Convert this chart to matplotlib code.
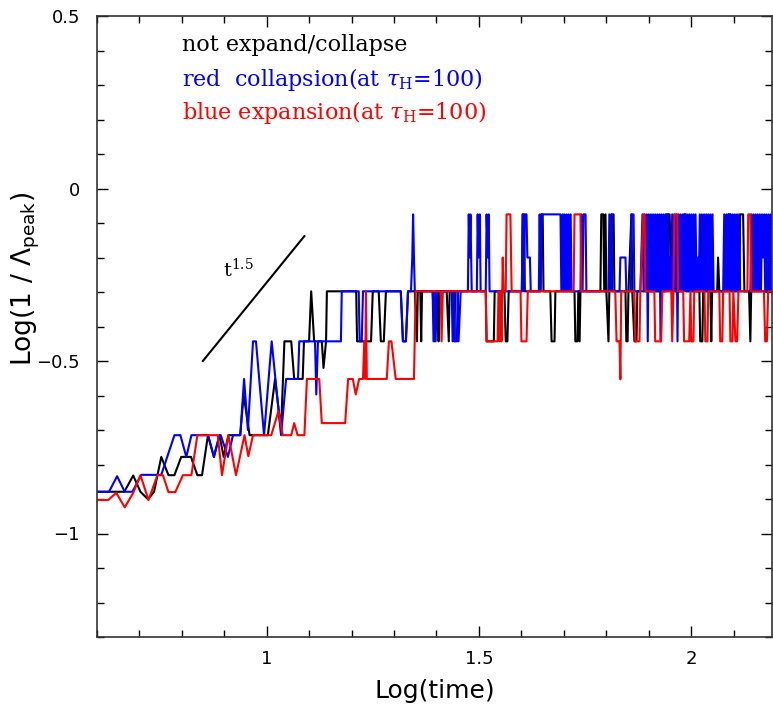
import matplotlib
matplotlib.use("Agg")
import matplotlib.pyplot as plt
from matplotlib.ticker import MultipleLocator

# ---- data (Log(time), Log(1/Lambda_peak)) ----
black_x = [0.604, 0.665, 0.686, 0.703, 0.721, 0.735, 0.752, 0.769, 0.783, 0.799,
           0.822, 0.837, 0.848, 0.862, 0.876, 0.889, 0.899, 0.910, 0.938, 0.946,
           0.960, 1.003, 1.020, 1.034, 1.042, 1.058, 1.065, 1.085, 1.088, 1.100,
           1.105, 1.112, 1.130, 1.134, 1.140, 1.142, 1.211, 1.213, 1.246, 1.250,
           1.264, 1.269, 1.276, 1.281, 1.316, 1.321, 1.328, 1.333, 1.349, 1.354,
           1.356, 1.362, 1.364, 1.366, 1.391, 1.396, 1.398, 1.403, 1.405, 1.407,
           1.424, 1.429, 1.431, 1.440, 1.442, 1.444, 1.516, 1.518, 1.535,
           1.537, 1.560, 1.563, 1.567, 1.570, 1.601, 1.603, 1.606, 1.608, 1.645,
           1.647, 1.650, 1.652, 1.668, 1.671, 1.678, 1.680, 1.725, 1.727, 1.732,
           1.734, 1.737, 1.739, 1.786, 1.788, 1.793, 1.795, 1.798, 1.800, 1.805,
           1.807, 1.812, 1.817, 1.819, 1.845, 1.847, 1.850, 1.852, 1.859, 1.861,
           1.866, 1.871, 1.873, 1.939, 1.941, 1.949, 1.951, 1.953, 1.981, 1.983,
           1.986, 1.988, 2.019, 2.021, 2.026, 2.028, 2.045, 2.047, 2.049, 2.061,
           2.063, 2.066, 2.085, 2.087, 2.092, 2.094, 2.113, 2.115, 2.122, 2.125,
           2.136, 2.139, 2.141, 2.193]
black_y = [-0.879, -0.879, -0.832, -0.879, -0.901, -0.879, -0.778, -0.831, -0.831, -0.778,
           -0.778, -0.831, -0.831, -0.715, -0.778, -0.715, -0.778, -0.715, -0.715, -0.597,
           -0.715, -0.715, -0.552, -0.700, -0.443, -0.443, -0.552, -0.552, -0.443, -0.443,
           -0.298, -0.443, -0.443, -0.520, -0.443, -0.298, -0.298, -0.443, -0.443, -0.298,
           -0.298, -0.443, -0.443, -0.298, -0.298, -0.443, -0.443, -0.298, -0.298, -0.443,
           -0.298, -0.298, -0.443, -0.298, -0.298, -0.443, -0.298, -0.298, -0.443, -0.298,
           -0.298, -0.443, -0.298, -0.298, -0.443, -0.298, -0.298, -0.443, -0.443,
           -0.298, -0.298, -0.443, -0.443, -0.298, -0.298, -0.075, -0.075, -0.298, -0.298,
           -0.075, -0.075, -0.298, -0.298, -0.443, -0.443, -0.298, -0.298, -0.443, -0.443,
           -0.298, -0.443, -0.298, -0.298, -0.075, -0.075, -0.298, -0.075, -0.298, -0.443,
           -0.298, -0.075, -0.075, -0.298, -0.298, -0.443, -0.443, -0.298, -0.075, -0.298,
           -0.443, -0.443, -0.298, -0.298, -0.075, -0.075, -0.200, -0.298, -0.298, -0.075,
           -0.075, -0.298, -0.298, -0.443, -0.443, -0.298, -0.298, -0.443, -0.298, -0.298,
           -0.200, -0.298, -0.298, -0.075, -0.075, -0.298, -0.298, -0.075, -0.075, -0.298,
           -0.298, -0.443, -0.298, -0.298]

blue_x = [0.604, 0.629, 0.648, 0.666, 0.684, 0.705, 0.752, 0.783, 0.797, 0.811,
          0.823, 0.862, 0.876, 0.889, 0.892, 0.909, 0.921, 0.938, 0.947, 0.956,
          0.968, 0.975, 0.994, 1.012, 1.034, 1.046, 1.074, 1.077, 1.114, 1.117,
          1.121, 1.175, 1.177, 1.217, 1.219, 1.224, 1.227, 1.316, 1.321, 1.328,
          1.333, 1.340, 1.343, 1.345, 1.347, 1.349, 1.391, 1.393, 1.396, 1.398,
          1.401, 1.436, 1.438, 1.441, 1.443, 1.448, 1.450, 1.452, 1.457, 1.474,
          1.476, 1.478, 1.480, 1.483, 1.495, 1.497, 1.499, 1.502, 1.504, 1.516,
          1.518, 1.521, 1.523, 1.525, 1.601, 1.603, 1.606, 1.608, 1.612, 1.614,
          1.620, 1.622, 1.641, 1.643, 1.645, 1.648, 1.692, 1.694, 1.697, 1.699,
          1.701, 1.704, 1.706, 1.708, 1.711, 1.713, 1.716, 1.718, 1.739, 1.741,
          1.744, 1.746, 1.751, 1.753, 1.805, 1.807, 1.810, 1.812, 1.814, 1.831,
          1.833, 1.845, 1.847, 1.857, 1.859, 1.864, 1.866, 1.880,
          1.8850, 1.8875, 1.8900, 1.8925, 1.8950, 1.8975, 1.9000, 1.9025, 1.9050, 1.9075,
          1.9100, 1.9125, 1.9150, 1.9175, 1.9200, 1.9225, 1.9250, 1.9275, 1.9300, 1.9325,
          1.9350, 1.9375, 1.9400, 1.9425, 1.9450, 1.9475, 1.9500, 1.9525, 1.9550, 1.9575,
          1.9600, 1.9625, 1.9650, 1.9675, 1.9700, 1.9725, 1.9750, 1.9775, 1.9800, 1.9825,
          1.9850, 1.9875, 1.9900, 1.9925, 1.9950, 1.9975, 2.0000, 2.0025, 2.0050, 2.0075,
          2.0100, 2.0125, 2.0150, 2.0175, 2.0200, 2.0225, 2.0250, 2.0275, 2.0300, 2.0325,
          2.0350, 2.0375, 2.0400, 2.0425, 2.0450, 2.0475, 2.0500, 2.0525,
          2.075,
          2.0775, 2.0800, 2.0825, 2.0850, 2.0875, 2.0900, 2.0925, 2.0950, 2.0975, 2.1000,
          2.1025, 2.1050, 2.1075, 2.1100, 2.1125, 2.1150,
          2.139,
          2.1415, 2.1440, 2.1465, 2.1490, 2.1515, 2.1540, 2.1565, 2.1590, 2.1615, 2.1640,
          2.1665, 2.1690, 2.1715, 2.1740, 2.1765, 2.1790, 2.1815, 2.1840, 2.1865, 2.1890,
          2.1915]
blue_y = [-0.879, -0.879, -0.834, -0.879, -0.879, -0.830, -0.830, -0.715, -0.715, -0.778,
          -0.715, -0.715, -0.778, -0.715, -0.715, -0.778, -0.715, -0.715, -0.552, -0.700,
          -0.443, -0.443, -0.715, -0.443, -0.715, -0.552, -0.552, -0.443, -0.443, -0.597,
          -0.443, -0.443, -0.298, -0.298, -0.443, -0.443, -0.298, -0.298, -0.443, -0.443,
          -0.298, -0.298, -0.200, -0.075, -0.200, -0.298, -0.298, -0.443, -0.298, -0.443,
          -0.298, -0.298, -0.443, -0.298, -0.443, -0.443, -0.298, -0.443, -0.298, -0.298,
          -0.075, -0.200, -0.075, -0.298, -0.298, -0.075, -0.200, -0.075, -0.298, -0.298,
          -0.075, -0.200, -0.075, -0.298, -0.298, -0.075, -0.298, -0.075, -0.075, -0.200,
          -0.200, -0.298, -0.298, -0.075, -0.298, -0.075, -0.075, -0.298, -0.075, -0.298,
          -0.075, -0.298, -0.075, -0.298, -0.075, -0.298, -0.075, -0.298, -0.298, -0.075,
          -0.298, -0.075, -0.075, -0.298, -0.298, -0.075, -0.298, -0.075, -0.298, -0.298,
          -0.200, -0.200, -0.298, -0.298, -0.075, -0.075, -0.298, -0.298,
          -0.075, -0.298, -0.075, -0.298, -0.075, -0.443, -0.075, -0.298, -0.075, -0.298,
          -0.075, -0.298, -0.075, -0.298, -0.075, -0.298, -0.075, -0.443, -0.075, -0.298,
          -0.075, -0.298, -0.075, -0.298, -0.075, -0.298, -0.200, -0.298, -0.075, -0.298,
          -0.075, -0.298, -0.075, -0.443, -0.075, -0.298, -0.075, -0.298, -0.075, -0.298,
          -0.075, -0.298, -0.075, -0.298, -0.075, -0.298, -0.075, -0.298, -0.075, -0.298,
          -0.075, -0.298, -0.200, -0.298, -0.075, -0.298, -0.075, -0.298, -0.075, -0.298,
          -0.075, -0.298, -0.075, -0.298, -0.075, -0.298, -0.075, -0.298,
          -0.298,
          -0.075, -0.298, -0.075, -0.298, -0.075, -0.298, -0.075, -0.298, -0.075, -0.298,
          -0.075, -0.298, -0.075, -0.298, -0.075, -0.298,
          -0.298,
          -0.075, -0.298, -0.075, -0.298, -0.075, -0.298, -0.075, -0.298, -0.075, -0.298,
          -0.075, -0.200, -0.075, -0.298, -0.075, -0.298, -0.075, -0.298, -0.075, -0.298,
          -0.075]

red_x = [0.604, 0.627, 0.646, 0.666, 0.686, 0.703, 0.722, 0.743, 0.756, 0.769,
         0.785, 0.803, 0.823, 0.837, 0.885, 0.895, 0.910, 0.928, 0.948, 0.957,
         0.968, 1.011, 1.028, 1.038, 1.058, 1.065, 1.073, 1.089, 1.095, 1.124,
         1.130, 1.185, 1.192, 1.203, 1.210, 1.218, 1.227, 1.230, 1.232, 1.234,
         1.236, 1.241, 1.283, 1.288, 1.294, 1.304, 1.347, 1.351, 1.410, 1.412,
         1.415, 1.516, 1.518, 1.544, 1.546, 1.549, 1.551, 1.553, 1.556, 1.558,
         1.563, 1.565, 1.574, 1.577, 1.598, 1.600, 1.612, 1.615, 1.723, 1.725,
         1.739, 1.741, 1.821, 1.824, 1.831, 1.833, 1.835, 1.866, 1.868, 1.878,
         1.880, 1.883, 1.887, 1.890, 1.892, 1.913, 1.915, 1.929, 1.932, 1.953,
         1.955, 1.958, 1.960, 1.967, 1.969, 1.981, 1.983, 1.995, 1.998, 2.000,
         2.005, 2.007, 2.031, 2.033, 2.038, 2.040, 2.066, 2.068, 2.073, 2.075,
         2.090, 2.092, 2.097, 2.099, 2.104, 2.108, 2.111, 2.132, 2.134, 2.139,
         2.141, 2.171, 2.174, 2.178, 2.181, 2.193]
red_y = [-0.903, -0.903, -0.882, -0.924, -0.882, -0.831, -0.903, -0.831, -0.831, -0.880,
         -0.880, -0.831, -0.831, -0.715, -0.715, -0.831, -0.715, -0.831, -0.715, -0.776,
         -0.715, -0.715, -0.645, -0.715, -0.715, -0.680, -0.715, -0.715, -0.552, -0.552,
         -0.680, -0.680, -0.552, -0.552, -0.597, -0.552, -0.552, -0.443, -0.552, -0.298,
         -0.552, -0.552, -0.552, -0.443, -0.443, -0.552, -0.552, -0.298, -0.298, -0.443,
         -0.298, -0.298, -0.443, -0.443, -0.298, -0.443, -0.298, -0.443, -0.200, -0.298,
         -0.298, -0.075, -0.075, -0.298, -0.298, -0.443, -0.443, -0.298, -0.298, -0.075,
         -0.075, -0.298, -0.298, -0.443, -0.443, -0.553, -0.298, -0.298, -0.443, -0.443,
         -0.298, -0.200, -0.075, -0.075, -0.298, -0.298, -0.443, -0.443, -0.298, -0.298,
         -0.443, -0.298, -0.075, -0.075, -0.298, -0.298, -0.443, -0.443, -0.298, -0.443,
         -0.443, -0.298, -0.298, -0.443, -0.443, -0.298, -0.298, -0.443, -0.443, -0.298,
         -0.298, -0.443, -0.443, -0.298, -0.443, -0.443, -0.298, -0.298, -0.075, -0.075,
         -0.298, -0.298, -0.443, -0.443, -0.298, -0.298]

slope_x = [0.850, 1.089]
slope_y = [-0.500, -0.138]

legend_lines = ["not expand/collapse",
                r"red  collapsion(at $\tau_{\rm H}$=100)",
                r"blue expansion(at $\tau_{\rm H}$=100)"]
legend_colors = ["black", "blue", "red"]

plt.rcParams["mathtext.fontset"] = "dejavuserif"

fig = plt.figure(figsize=(7.73, 7.09), dpi=100)
ax = fig.add_axes([96.7 / 773, 1 - 637 / 709, (772 - 96.7) / 773, (637 - 16) / 709])

ax.plot(black_x, black_y, color="black", lw=1.5)
ax.plot(blue_x, blue_y, color="blue", lw=1.5)
ax.plot(red_x, red_y, color="red", lw=1.5)
ax.plot(slope_x, slope_y, color="black", lw=1.5)
ax.text(0.898, -0.255, r"t$^{1.5}$", fontsize=14, family="DejaVu Serif")

for i, (txt, c) in enumerate(zip(legend_lines, legend_colors)):
    ax.text(0.80, 0.415 - 0.098 * i, txt, color=c, fontsize=16,
            family="DejaVu Serif", va="center")

ax.set_xlim(0.6, 2.19)
ax.set_ylim(-1.3, 0.5)
ax.xaxis.set_major_locator(MultipleLocator(0.5))
ax.xaxis.set_minor_locator(MultipleLocator(0.1))
ax.yaxis.set_major_locator(MultipleLocator(0.5))
ax.yaxis.set_minor_locator(MultipleLocator(0.1))
ax.xaxis.set_major_formatter(plt.FuncFormatter(lambda v, p: f"{v:g}"))
ax.yaxis.set_major_formatter(plt.FuncFormatter(lambda v, p: f"{v:g}".replace("-", "\u2212")))
ax.tick_params(which="both", direction="in", top=True, right=True, labelsize=13)
ax.tick_params(which="major", length=8, width=1, pad=9)
ax.tick_params(which="minor", length=5, width=1)
ax.tick_params(axis="y", pad=12)
for s in ax.spines.values():
    s.set_linewidth(1.2)
    s.set_color("#333333")

ax.set_xlabel("Log(time)", fontsize=18, labelpad=8)
ax.set_ylabel(r"Log(1 / $\mathsf{\Lambda}_{\mathsf{peak}}$)", fontsize=19, va="center")
ax.yaxis.set_label_coords(-0.106, 0.576)

fig.savefig("out.png", dpi=100)
